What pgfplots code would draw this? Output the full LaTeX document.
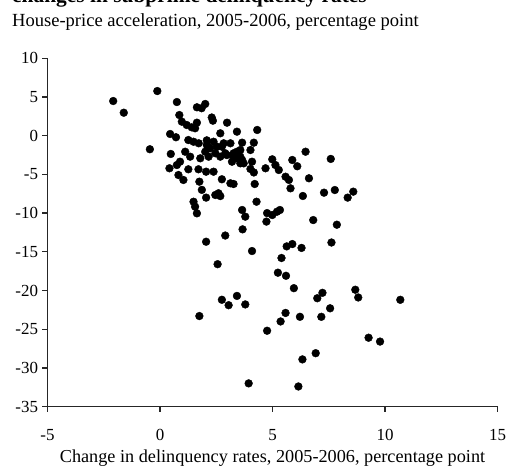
\documentclass[border=0pt]{standalone}
\usepackage{fontspec}
\setmainfont{Liberation Serif}
\usepackage{pgfplots}
\pgfplotsset{compat=1.18}
\begin{document}
\begin{tikzpicture}
\begin{axis}[
  scale only axis,
  width=450bp, height=348.3bp,
  at={(0,0)}, anchor=south west,
  xmin=-5, xmax=15, ymin=-35, ymax=10,
  axis x line*=bottom, axis y line*=left,
  axis line style={black!85, line width=1.2bp},
  xtick={-5,0,5,10,15}, ytick={-35,-30,...,10},
  tick align=outside, major tick length=5bp,
  tick style={black!85, line width=1.2bp},
  /pgf/number format/assume math mode=true,
  ticklabel style={font=\fontsize{17}{19}\selectfont},
  xticklabel style={yshift=-14bp},
  yticklabel style={xshift=-1bp},
  xlabel={Change in delinquency rates, 2005-2006, percentage point},
  xlabel style={font=\fontsize{18.3}{21}\selectfont, yshift=-2bp},
  clip=false,
]
\addplot[only marks, mark=*, mark size=3.9bp, mark options={fill=black, draw=black}] coordinates {
(-2.08,4.48) (-1.61,2.97) (-0.12,5.77) (-0.45,-1.75) (0.75,4.35)
(1.64,3.67) (1.85,3.55) (2.01,4.10) (0.86,2.67) (0.97,1.81)
(1.19,1.38) (1.41,1.08) (1.64,1.68) (1.56,0.96) (2.30,2.35)
(2.35,1.94) (2.98,1.68) (3.42,0.52) (4.32,0.74) (2.68,0.31)
(0.45,0.22) (0.71,-0.20) (1.26,-0.56) (1.49,-0.78) (1.72,-0.98)
(2.08,-0.60) (0.48,-2.36) (1.12,-2.07) (1.34,-2.71) (0.89,-3.36)
(0.75,-3.79) (0.42,-4.21) (1.26,-4.34) (1.71,-4.34) (1.79,-2.92)
(0.82,-5.08) (1.04,-5.72) (1.75,-5.94) (2.05,-4.65) (2.38,-4.65)
(1.86,-7.00) (2.05,-8.00) (2.46,-7.66) (2.60,-7.44) (2.68,-7.80)
(2.75,-5.63) (3.13,-6.15) (3.27,-6.24) (4.21,-6.24) (4.29,-8.53)
(1.49,-8.53) (1.56,-9.17) (1.64,-10.03) (3.65,-9.60) (3.79,-10.46)
(2.38,-0.78) (2.08,-1.20) (2.01,-2.07) (2.53,-1.42) (2.83,-0.98)
(3.13,-0.98) (3.65,-0.90) (4.17,-0.90) (4.02,-1.85) (3.57,-1.85)
(3.27,-2.27) (3.42,-2.92) (3.20,-3.36) (3.65,-3.14) (2.97,-2.50)
(2.68,-2.71) (2.46,-2.27) (2.16,-2.71) (4.09,-3.36) (4.17,-4.75)
(4.02,-4.30) (3.57,-3.57) (4.99,-3.05) (5.13,-3.79) (5.28,-4.43)
(4.69,-4.21) (5.88,-3.14) (6.10,-3.95) (6.47,-2.07) (7.59,-3.00)
(5.58,-5.30) (5.73,-5.72) (5.80,-6.80) (6.62,-5.50) (6.35,-7.79)
(7.29,-7.36) (7.77,-7.02) (8.34,-8.00) (8.59,-7.23) (4.76,-10.00)
(4.99,-10.25) (5.20,-9.82) (5.33,-9.60) (4.73,-11.10) (6.81,-10.90)
(7.86,-11.50) (3.67,-12.10) (2.05,-13.70) (2.90,-12.90) (4.09,-14.90)
(2.56,-16.60) (5.63,-14.30) (5.88,-14.00) (6.29,-14.50) (5.40,-15.80)
(5.24,-17.70) (5.60,-18.10) (7.62,-13.80) (5.95,-19.70) (6.99,-21.00)
(7.22,-20.30) (7.56,-22.30) (7.17,-23.40) (8.68,-19.90) (8.81,-20.90)
(10.68,-21.20) (2.75,-21.20) (3.05,-21.90) (3.42,-20.70) (3.79,-21.80)
(1.75,-23.30) (5.58,-22.90) (5.36,-24.00) (6.22,-23.40) (4.76,-25.20)
(9.27,-26.10) (9.78,-26.60) (6.92,-28.10) (6.33,-28.90) (3.94,-32.00)
(6.15,-32.40) (2.23,-1.63) (2.75,-1.42) (3.27,-2.71) (3.57,-2.71)
(3.42,-2.07) (3.72,-3.57) (2.90,-2.27)
};
\end{axis}
\node[anchor=base west, inner sep=0, font=\fontsize{21.5}{25}\selectfont\bfseries] at (-35.5bp,403.6bp) {changes in subprime delinquency rates};
\node[anchor=base west, inner sep=0, font=\fontsize{18.6}{21}\selectfont] at (-35.5bp,379.9bp) {House-price acceleration, 2005-2006, percentage point};
\pgfresetboundingbox
\useasboundingbox (-47.5bp,-59.4bp) rectangle (459.5bp,406.6bp);
\end{tikzpicture}
\end{document}
